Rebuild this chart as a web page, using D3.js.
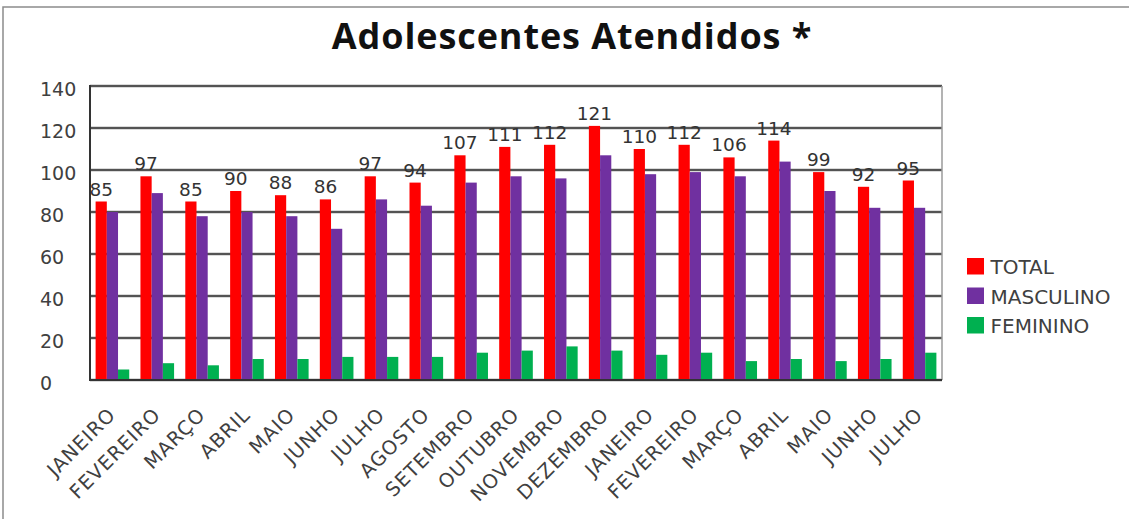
<!DOCTYPE html>
<html>
<head>
<meta charset="utf-8">
<script src="https://cdn.jsdelivr.net/npm/d3@7"></script>
<style>
  html, body { margin: 0; padding: 0; background: #ffffff; }
  svg { display: block; }
</style>
</head>
<body>
<svg id="chart" width="1129" height="519"></svg>
<script>
// Monthly attendance of adolescents, split by sex
const months = ["JANEIRO", "FEVEREIRO", "MARÇO", "ABRIL", "MAIO", "JUNHO", "JULHO",
  "AGOSTO", "SETEMBRO", "OUTUBRO", "NOVEMBRO", "DEZEMBRO",
  "JANEIRO", "FEVEREIRO", "MARÇO", "ABRIL", "MAIO", "JUNHO", "JULHO"];
const total     = [85, 97, 85, 90, 88, 86, 97, 94, 107, 111, 112, 121, 110, 112, 106, 114, 99, 92, 95];
const masculino = [80, 89, 78, 80, 78, 72, 86, 83, 94, 97, 96, 107, 98, 99, 97, 104, 90, 82, 82];
const feminino  = [5, 8, 7, 10, 10, 11, 11, 11, 13, 14, 16, 14, 12, 13, 9, 10, 9, 10, 13];
const yTicks = [0, 20, 40, 60, 80, 100, 120, 140];
const seriesNames = ["TOTAL", "MASCULINO", "FEMININO"];
const seriesColors = ["#FF0000", "#7030A0", "#00B050"];
const title = "Adolescentes Atendidos *";

const svg = d3.select("#chart");
const plot = { left: 90, right: 942, top: 86, bottom: 380 };
const labelFont = "'DejaVu Sans', Verdana, sans-serif";

// outer frame (only top and left edges fall inside the page)
svg.append("path")
  .attr("d", "M3,519 V7 H1129")
  .attr("fill", "none")
  .attr("stroke", "#8c8c8c")
  .attr("stroke-width", 1.5);

// title
svg.append("text")
  .attr("x", 572).attr("y", 49)
  .attr("text-anchor", "middle")
  .attr("font-family", "'Open Sans', sans-serif")
  .attr("font-weight", 700)
  .attr("font-size", 36)
  .attr("letter-spacing", 0.9)
  .attr("fill", "#111")
  .text(title);

const series = [total, masculino, feminino];
const table = months.map((m, i) => ({ i, month: m, values: series.map(s => s[i]) }));

const x = d3.scaleBand()
  .domain(d3.range(months.length))
  .range([plot.left, plot.right])
  .paddingInner(0.25)
  .paddingOuter(0.125);

const xs = d3.scaleBand()
  .domain(seriesNames)
  .range([0, x.bandwidth()]);

const y = d3.scaleLinear().domain([0, 140]).range([plot.bottom, plot.top]);

// horizontal gridlines
const grid = svg.append("g");
grid.selectAll("line.halo")
  .data(yTicks)
  .join("line")
  .attr("class", "halo")
  .attr("x1", plot.left).attr("x2", plot.right)
  .attr("y1", d => y(d)).attr("y2", d => y(d))
  .attr("stroke", "#b5b5b5")
  .attr("stroke-width", 3.2);
grid.selectAll("line.core")
  .data(yTicks)
  .join("line")
  .attr("class", "core")
  .attr("x1", plot.left).attr("x2", plot.right)
  .attr("y1", d => y(d)).attr("y2", d => y(d))
  .attr("stroke", "#333")
  .attr("stroke-width", 1.4);

// right edge of plot area
svg.append("line")
  .attr("x1", plot.right).attr("x2", plot.right)
  .attr("y1", plot.top).attr("y2", plot.bottom)
  .attr("stroke", "#9a9a9a").attr("stroke-width", 1.5);

// bars
const groups = svg.append("g").selectAll("g")
  .data(table)
  .join("g")
  .attr("transform", d => `translate(${x(d.i)},0)`);

groups.selectAll("rect")
  .data(d => d.values.map((v, k) => ({ name: seriesNames[k], value: v, color: seriesColors[k] })))
  .join("rect")
  .attr("x", d => xs(d.name))
  .attr("width", xs.bandwidth())
  .attr("y", d => y(d.value))
  .attr("height", d => y(0) - y(d.value))
  .attr("fill", d => d.color);

// value labels over TOTAL bars
svg.append("g").selectAll("text")
  .data(table)
  .join("text")
  .attr("x", d => x(d.i) + xs("TOTAL") + xs.bandwidth() / 2)
  .attr("y", d => y(d.values[0]) - 6)
  .attr("text-anchor", "middle")
  .attr("font-family", labelFont)
  .attr("font-size", 18.5)
  .attr("fill", "#333")
  .text(d => d.values[0]);

// axis lines
svg.append("line")
  .attr("x1", plot.left).attr("x2", plot.left)
  .attr("y1", plot.top - 1).attr("y2", plot.bottom + 1)
  .attr("stroke", "#333").attr("stroke-width", 2);
svg.append("line")
  .attr("x1", plot.left).attr("x2", plot.right)
  .attr("y1", plot.bottom).attr("y2", plot.bottom)
  .attr("stroke", "#333").attr("stroke-width", 2);

// y tick labels (left aligned)
svg.append("g").selectAll("text")
  .data(yTicks)
  .join("text")
  .attr("x", 40)
  .attr("y", d => y(d) + 3)
  .attr("dominant-baseline", "central")
  .attr("font-family", labelFont)
  .attr("font-size", 19)
  .attr("fill", "#404040")
  .text(d => d);

// x category labels, rotated
svg.append("g").selectAll("text")
  .data(table)
  .join("text")
  .attr("transform", d => `translate(${x(d.i) + x.bandwidth() / 2 + 4.5},416) rotate(-45)`)
  .attr("text-anchor", "end")
  .attr("font-family", labelFont)
  .attr("font-size", 19.5)
  .attr("letter-spacing", 1)
  .attr("fill", "#404040")
  .text(d => d.month);

// legend
const legend = svg.append("g").selectAll("g")
  .data(seriesNames)
  .join("g")
  .attr("transform", (d, k) => `translate(967,${258 + k * 29.5})`);
legend.append("rect")
  .attr("width", 17).attr("height", 16.5)
  .attr("fill", (d, k) => seriesColors[k]);
legend.append("text")
  .attr("x", 23.5).attr("y", 16)
  .attr("font-family", labelFont)
  .attr("font-size", 20)
  .attr("fill", "#404040")
  .text(d => d);
</script>
</body>
</html>
